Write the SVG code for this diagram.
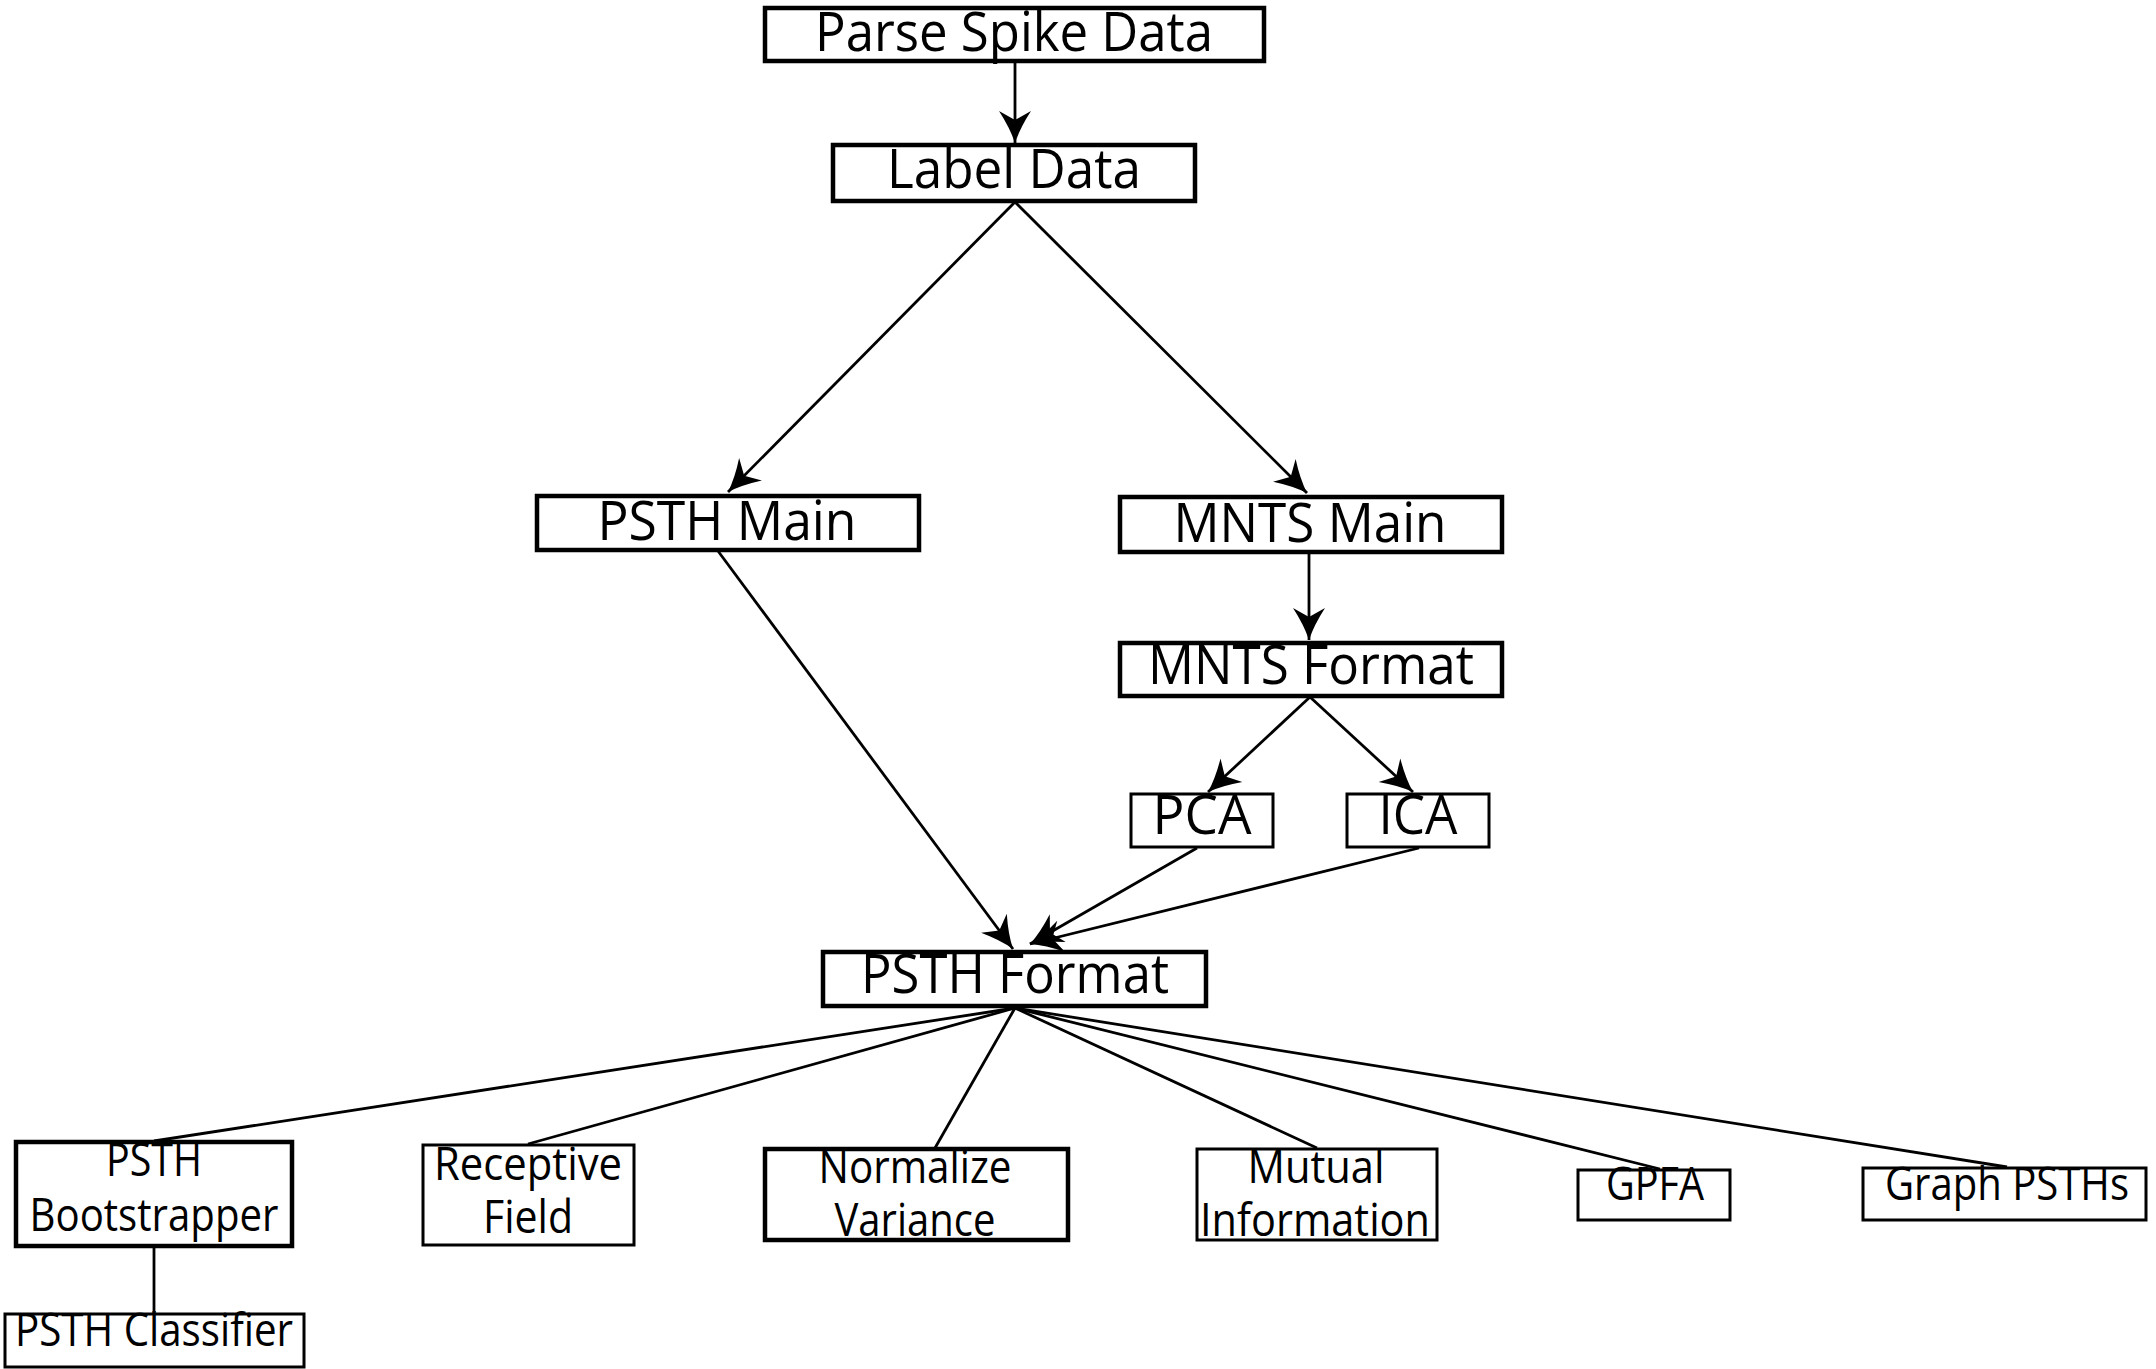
<svg xmlns="http://www.w3.org/2000/svg" width="2156" height="1369" viewBox="0 0 2156 1369">
<style>
.bg{fill:#fff}
.box{fill:#fff;stroke:#000;stroke-width:4.5}
.thin{fill:#fff;stroke:#000;stroke-width:3}
.t{font-family:"Open Sans","Liberation Sans",sans-serif;font-size:54px;fill:#000;text-anchor:middle}
.s{font-family:"Open Sans","Liberation Sans",sans-serif;font-size:46px;fill:#000;text-anchor:middle}
.c{fill:none;stroke:#000;stroke-width:2.8}
</style>
<defs>
<marker id="ah" markerUnits="userSpaceOnUse" viewBox="-34 -18 36 36" refX="0" refY="0" markerWidth="36" markerHeight="36" orient="auto" overflow="visible">
<path d="M0,0 Q-15,-5 -32,-16 L-23,0 L-32,16 Q-15,5 0,0 Z" fill="#000"/>
</marker>
</defs>
<rect class="bg" x="0" y="0" width="2156" height="1369"/>
<g id="connectors">
<line class="c" x1="1015" y1="62" x2="1015" y2="143" marker-end="url(#ah)"/>
<line class="c" x1="1015" y1="202" x2="728" y2="492" marker-end="url(#ah)"/>
<line class="c" x1="1015" y1="202" x2="1307" y2="493" marker-end="url(#ah)"/>
<line class="c" x1="1309" y1="553" x2="1309" y2="640" marker-end="url(#ah)"/>
<line class="c" x1="1310" y1="697" x2="1208" y2="792" marker-end="url(#ah)"/>
<line class="c" x1="1310" y1="697" x2="1413" y2="792" marker-end="url(#ah)"/>
<line class="c" x1="718" y1="551" x2="1013" y2="949" marker-end="url(#ah)"/>
<line class="c" x1="1197" y1="848" x2="1030" y2="944" marker-end="url(#ah)"/>
<line class="c" x1="1419" y1="848" x2="1030" y2="944" marker-end="url(#ah)"/>
<line class="c" x1="1015" y1="1008" x2="154" y2="1141"/>
<line class="c" x1="1015" y1="1008" x2="528" y2="1144"/>
<line class="c" x1="1015" y1="1008" x2="935" y2="1148"/>
<line class="c" x1="1015" y1="1008" x2="1317" y2="1148"/>
<line class="c" x1="1015" y1="1008" x2="1660" y2="1169"/>
<line class="c" x1="1015" y1="1008" x2="2007" y2="1167"/>
<line class="c" x1="154" y1="1247" x2="154" y2="1313"/>
</g>
<g id="parse"><rect class="box" x="765" y="8" width="499" height="53"/><text class="t" x="1014" y="51" textLength="398" lengthAdjust="spacingAndGlyphs">Parse Spike Data</text></g>
<g id="label"><rect class="box" x="833" y="145" width="362" height="56"/><text class="t" x="1014" y="188" textLength="254" lengthAdjust="spacingAndGlyphs">Label Data</text></g>
<g id="psthmain"><rect class="box" x="537" y="496" width="382" height="54"/><text class="t" x="727" y="540" textLength="259" lengthAdjust="spacingAndGlyphs">PSTH Main</text></g>
<g id="mntsmain"><rect class="box" x="1120" y="497" width="382" height="55"/><text class="t" x="1310" y="542" textLength="273" lengthAdjust="spacingAndGlyphs">MNTS Main</text></g>
<g id="mntsformat"><rect class="box" x="1120" y="643" width="382" height="53"/><text class="t" x="1311" y="684" textLength="326" lengthAdjust="spacingAndGlyphs">MNTS Format</text></g>
<g id="pca"><rect class="thin" x="1131" y="794" width="142" height="53"/><text class="t" x="1202" y="834" textLength="99" lengthAdjust="spacingAndGlyphs">PCA</text></g>
<g id="ica"><rect class="thin" x="1347" y="794" width="142" height="53"/><text class="t" x="1418" y="834" textLength="79" lengthAdjust="spacingAndGlyphs">ICA</text></g>
<g id="psthformat"><rect class="box" x="823" y="952" width="383" height="54"/><text class="t" x="1015" y="993" textLength="308" lengthAdjust="spacingAndGlyphs">PSTH Format</text></g>
<g id="bootstrapper"><rect class="box" x="16" y="1142" width="276" height="104"/><text class="s" x="154" y="1176" textLength="96" lengthAdjust="spacingAndGlyphs">PSTH</text><text class="s" x="154" y="1231" textLength="249" lengthAdjust="spacingAndGlyphs">Bootstrapper</text></g>
<g id="classifier"><rect class="thin" x="5" y="1314" width="299" height="53"/><text class="s" x="154" y="1346" textLength="278" lengthAdjust="spacingAndGlyphs">PSTH Classifier</text></g>
<g id="receptive"><rect class="thin" x="423" y="1145" width="211" height="100"/><text class="s" x="528" y="1180" textLength="188" lengthAdjust="spacingAndGlyphs">Receptive</text><text class="s" x="528" y="1233" textLength="90" lengthAdjust="spacingAndGlyphs">Field</text></g>
<g id="normalize"><rect class="box" x="765" y="1149" width="303" height="91"/><text class="s" x="915" y="1183" textLength="193" lengthAdjust="spacingAndGlyphs">Normalize</text><text class="s" x="915" y="1236" textLength="161" lengthAdjust="spacingAndGlyphs">Variance</text></g>
<g id="mutual"><rect class="thin" x="1197" y="1149" width="240" height="91"/><text class="s" x="1316" y="1183" textLength="137" lengthAdjust="spacingAndGlyphs">Mutual</text><text class="s" x="1315" y="1236" textLength="230" lengthAdjust="spacingAndGlyphs">Information</text></g>
<g id="gpfa"><rect class="thin" x="1578" y="1170" width="152" height="50"/><text class="s" x="1655" y="1200" textLength="98" lengthAdjust="spacingAndGlyphs">GPFA</text></g>
<g id="graph"><rect class="thin" x="1863" y="1168" width="283" height="52"/><text class="s" x="2007" y="1200" textLength="244" lengthAdjust="spacingAndGlyphs">Graph PSTHs</text></g>
</svg>
